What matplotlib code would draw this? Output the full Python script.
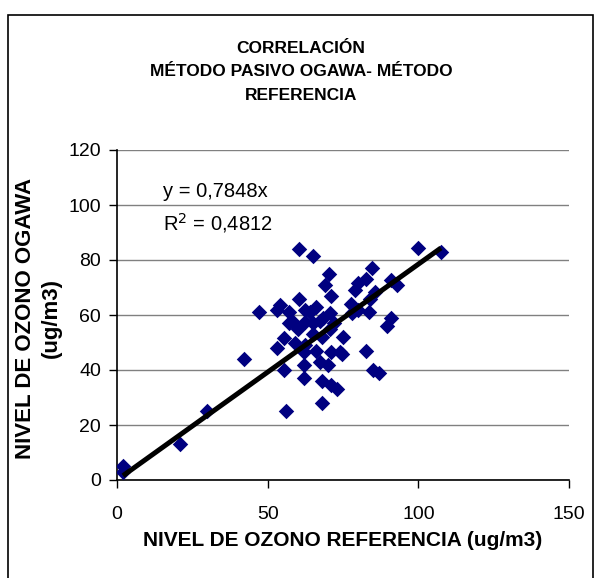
import matplotlib
matplotlib.use('Agg')
import matplotlib.pyplot as plt
from matplotlib.patches import Rectangle
import numpy as np

plt.rcParams['font.family'] = ['Liberation Sans', 'DejaVu Sans']

# datos
ref = [2, 2, 21, 30, 42, 47, 53, 54, 57, 57, 55.5, 53, 55.5, 56,
       60.5, 65, 60.5, 62.5, 64, 62.5, 65, 67.5, 68.5, 70.8, 70.8, 70.4, 69, 71,
       62.5, 62, 66, 62, 62, 67.5, 70, 71, 74, 68, 71, 73, 68,
       75, 77.5, 78, 82.5, 84.5, 80, 79, 91, 93, 85.7, 84, 80, 83.5, 91, 89.5,
       74.6, 82.7, 85, 87, 100, 107.5, 58, 60, 65, 68, 66, 59, 72]
ogawa = [5, 3, 13, 25, 44, 61, 62, 63.5, 61, 57, 51.5, 48, 40, 25,
         84, 81.5, 66, 62, 61, 57.5, 57, 58, 59, 60.6, 55, 75, 71, 67,
         49, 46.7, 47, 42, 37, 43, 42, 46.7, 46.7, 36, 34.5, 33, 28,
         52, 64, 60.6, 73, 77, 71.5, 69, 72.7, 71, 68.5, 66, 62, 61, 59, 56,
         46, 47, 40, 39, 84.5, 83, 58, 55, 53, 52, 63, 50, 57]
pendiente = 0.7848
r2 = 0.4812

fig = plt.figure(figsize=(5.99, 5.78), dpi=100)
ax = fig.add_axes([117/599, 98/578, 452/599, 330/578])

ax.scatter(ref, ogawa, marker='D', s=62, color='#000080', zorder=3, linewidths=0)
xt = np.array([min(ref), max(ref)])
ax.plot(xt, pendiente*xt, color='black', lw=3.6, zorder=4, solid_capstyle='butt')

ax.set_xlim(0, 150)
ax.set_ylim(0, 120)
ax.set_xticks([0, 50, 100, 150])
ax.set_yticks(range(0, 121, 20))
ax.grid(axis='y', color='#808080', lw=1)
ax.set_axisbelow(True)
for s in ['top', 'right']:
    ax.spines[s].set_visible(False)
ax.spines['left'].set_linewidth(1.2)
ax.spines['bottom'].set_linewidth(1.2)
ax.tick_params(direction='out', length=5.5, width=1, labelsize=14, pad=6)
ax.tick_params(axis='x', pad=13)

ax.set_xlabel('NIVEL DE OZONO REFERENCIA (ug/m3)', fontsize=15, fontweight='bold', va='center')
ax.xaxis.set_label_coords(0.5, -61/330)
ax.set_ylabel('NIVEL DE OZONO OGAWA\n(ug/m3)', fontsize=16, fontweight='bold',
              va='center', linespacing=1.3)
ax.yaxis.set_label_coords(-79/452, 0.49)

ax.text(15.3, 105, 'y = 0,7848x', fontsize=14.5, va='center')
ax.text(15.3, 93.5, 'R$^2$ = ' + str(r2).replace('.', ','), fontsize=14.5, va='center')

fig.text(301/599, 1 - 72/578, 'CORRELACIÓN\nMÉTODO PASIVO OGAWA- MÉTODO\nREFERENCIA',
         ha='center', va='center', fontsize=12.5, fontweight='bold', linespacing=1.72)

marco = Rectangle((8/599, -0.02), 585/599, 1.02 - 15/578, transform=fig.transFigure,
                  fill=False, edgecolor='black', lw=1.2, clip_on=False)
fig.add_artist(marco)

fig.savefig('out.png', dpi=100)
